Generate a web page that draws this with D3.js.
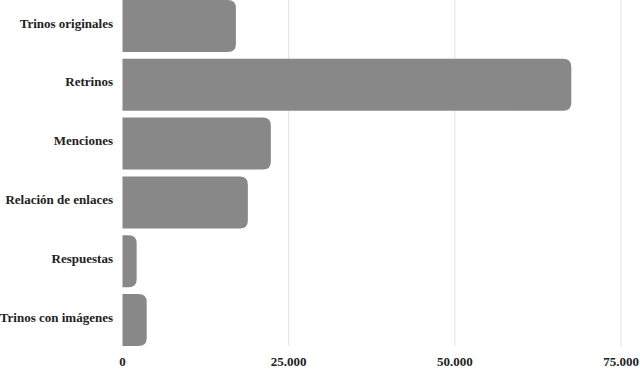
<!DOCTYPE html>
<html>
<head>
<meta charset="utf-8">
<script src="https://cdn.jsdelivr.net/npm/d3@7"></script>
<style>
  body { margin: 0; background: #fff; }
  svg text { font-family: "Liberation Serif", serif; font-weight: bold; fill: #222; }
</style>
</head>
<body>
<div id="chart"></div>
<script>
// categories and values
let categories = ['Trinos originales', 'Retrinos', 'Menciones', 'Relación de enlaces', 'Respuestas', 'Trinos con imágenes'];
let values = [17060, 67520, 22320, 18860, 2130, 3640];
let tickValues = [0, 25000, 50000, 75000];

let width = 640;
let height = 372;
let margin = { left: 122.5, top: 0 };

let svg = d3.select('#chart')
  .append('svg')
  .attr('width', width)
  .attr('height', height);

let x = d3.scaleLinear()
  .domain([0, 75000])
  .range([margin.left, 621]);

let y = d3.scaleBand()
  .domain(categories)
  .range([0, 346])
  .paddingInner(0.116)
  .paddingOuter(0);

let es = d3.formatLocale({ decimal: ',', thousands: '.', grouping: [3], currency: ['', ''] });
let fmt = es.format(',d');

// gridlines (not at zero)
svg.selectAll('line.grid')
  .data(tickValues.filter(d => d > 0))
  .enter()
  .append('line')
  .attr('class', 'grid')
  .attr('x1', d => x(d)).attr('x2', d => x(d))
  .attr('y1', 0).attr('y2', 346)
  .attr('stroke', '#e3e3e3')
  .attr('stroke-width', 1);

// bars with rounded right end
function barPath(x0, x1, y0, h, r) {
  r = Math.min(r, (x1 - x0), h / 2);
  return 'M' + x0 + ',' + y0 +
    'H' + (x1 - r) +
    'Q' + x1 + ',' + y0 + ' ' + x1 + ',' + (y0 + r) +
    'V' + (y0 + h - r) +
    'Q' + x1 + ',' + (y0 + h) + ' ' + (x1 - r) + ',' + (y0 + h) +
    'H' + x0 + 'Z';
}

svg.selectAll('path.bar')
  .data(categories)
  .enter()
  .append('path')
  .attr('class', 'bar')
  .attr('d', (d, i) => barPath(x(0), x(values[i]), y(d), y.bandwidth(), 8))
  .attr('fill', '#888888');

// category labels
svg.selectAll('text.cat')
  .data(categories)
  .enter()
  .append('text')
  .attr('class', 'cat')
  .attr('x', 113)
  .attr('y', d => y(d) + y.bandwidth() / 2)
  .attr('dy', '0.12em')
  .attr('text-anchor', 'end')
  .attr('font-size', 13)
  .text(d => d);

// x tick labels
svg.selectAll('text.tick')
  .data(tickValues)
  .enter()
  .append('text')
  .attr('class', 'tick')
  .attr('x', d => x(d))
  .attr('y', 366)
  .attr('text-anchor', 'middle')
  .attr('font-size', 13)
  .text(d => fmt(d));
</script>
</body>
</html>
